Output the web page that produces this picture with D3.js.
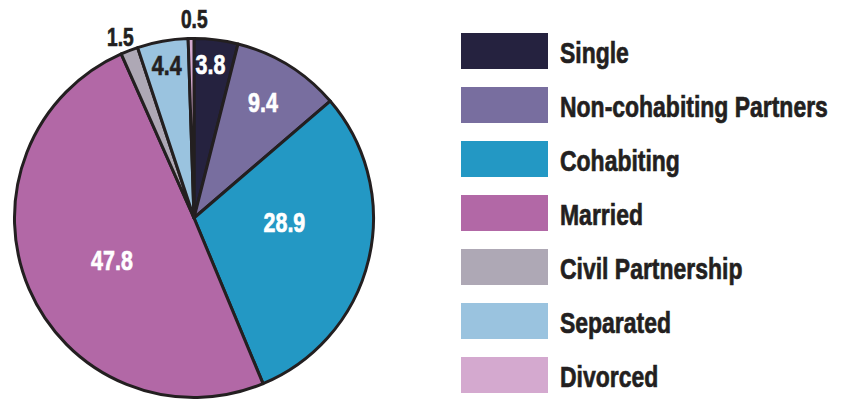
<!DOCTYPE html>
<html>
<head>
<meta charset="utf-8">
<script src="https://cdn.jsdelivr.net/npm/d3@7"></script>
<style>
  body { margin: 0; background: #fff; }
  text { font-family: "Liberation Sans Narrow", "Liberation Sans", Arial, sans-serif; font-weight: bold; }
</style>
</head>
<body>
<script>
'use strict';

var width = 841;
var height = 400;

// data
var categories = ['Single', 'Non-cohabiting Partners', 'Cohabiting', 'Married', 'Civil Partnership', 'Separated', 'Divorced'];
var values = [3.8, 9.4, 28.9, 47.8, 1.5, 4.4, 0.5];
var colors = ['#25223f', '#786e9f', '#2398c4', '#b268a6', '#aea8b5', '#9ac3df', '#d4a9cf'];

// label placement (fraction of radius, angle nudge in degrees)
var labelRadius = [0.855, 0.745, 0.5, 0.51, 1.08, 0.86, 1.1];
var labelNudge = [-1, -1, -11, -4, -1, 0, 1];
var labelFill = ['#fff', '#fff', '#fff', '#fff', '#231f20', '#231f20', '#231f20'];

var cx = 194, cy = 218, R = 179.5;
var ink = '#231f20';

var svg = d3.select('body').append('svg').attr('width', width).attr('height', height);

// no condensed font installed: squeeze glyphs so the longest legend entry spans ~268px
var probe = svg.append('text').attr('font-size', 30).text('Non-cohabiting Partners');
var squeeze = Math.min(1, 268 / probe.node().getComputedTextLength());
probe.remove();

var pie = d3.pie().sort(null).value(function (d) { return d; });
var arcs = pie(values);
var arc = d3.arc().innerRadius(0).outerRadius(R);

var g = svg.append('g').attr('transform', 'translate(' + cx + ',' + cy + ')');

g.selectAll('path').data(arcs).enter().append('path')
  .attr('d', arc)
  .attr('fill', function (d, i) { return colors[i]; })
  .attr('stroke', ink)
  .attr('stroke-width', 3)
  .attr('stroke-linejoin', 'round');

g.selectAll('text').data(arcs).enter().append('text')
  .attr('transform', function (d, i) {
    var a = (d.startAngle + d.endAngle) / 2 + labelNudge[i] * Math.PI / 180;
    var r = labelRadius[i] * (R + 1.5);
    return 'translate(' + (r * Math.sin(a)) + ',' + (-r * Math.cos(a)) + ') scale(' + squeeze + ',1)';
  })
  .attr('text-anchor', 'middle')
  .attr('dy', '0.36em')
  .attr('font-size', function (d, i) { return labelRadius[i] > 1 ? 25 : 28; })
  .attr('fill', function (d, i) { return labelFill[i]; })
  .attr('stroke', function (d, i) { return labelFill[i]; })
  .attr('stroke-width', 0.7)
  .text(function (d) { return d.value; });

// legend
var y = d3.scaleBand().domain(categories).range([33, 393]).paddingInner(1 / 3).paddingOuter(0);

var legend = svg.append('g');
var item = legend.selectAll('g').data(categories).enter().append('g');

item.append('rect')
  .attr('x', 461)
  .attr('y', function (d) { return y(d); })
  .attr('width', 87)
  .attr('height', y.bandwidth())
  .attr('fill', function (d, i) { return colors[i]; });

item.append('text')
  .attr('transform', function (d) { return 'translate(560,' + (y(d) + 29.5) + ') scale(' + squeeze + ',1)'; })
  .attr('font-size', 30)
  .attr('fill', ink)
  .attr('stroke', ink)
  .attr('stroke-width', 0.7)
  .text(function (d) { return d; });
</script>
</body>
</html>
